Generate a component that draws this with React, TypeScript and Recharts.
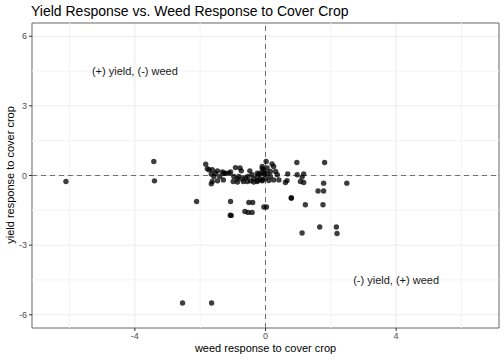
import {
  CartesianGrid,
  ReferenceArea,
  ReferenceDot,
  ReferenceLine,
  Scatter,
  ScatterChart,
  XAxis,
  YAxis,
} from "recharts";

// weed response (x) and yield response (y) to cover crop, one entry per study
const weedResponse = [
  -1.83, -1.78, -1.73, -1.63, -1.66, -1.53, -1.58, -1.47, -1.32, -1.27,
  -1.22, -1.12, -1.07, -1.4, -1.29, -1.63, -1.47, -0.92, -0.78, -0.74,
  -0.97, -0.86, -0.82, -0.71, -0.61, -0.54, -0.48, -0.41, -0.36, -0.25,
  -0.2, -0.15, -0.1, -0.05, -0.03, -0.99, -0.86, -0.68, -0.56, -0.46,
  -0.36, -0.25, -0.1, -1.66, 0.02, -0.1, 0.05, 0.2, 0.25, -0.25,
  -0.15, -0.05, 0.05, 0.15, 0.31, 0.36, 0.15, 0.0, -0.25, -0.1,
  0.1, 0.25, 0.41, 0.96, 1.81, 0.68, 0.97, 1.17, 1.12, 0.66,
  0.61, 1.07, 1.17, 1.78, 1.61, 1.78, 0.79, 0.79, 1.22, 1.76,
  2.49, -2.11, -1.07, -1.05, -1.08, -0.51, -0.39, -0.63, -0.53, -0.41,
  -0.05, 0.03, 1.66, 2.17, 2.19, 1.12, -6.11, -3.42, -3.4, -2.54,
  -1.65,
];
const yieldResponse = [
  0.49, 0.29, 0.25, 0.25, 0.06, 0.1, -0.04, 0.2, 0.15, 0.1,
  0.1, 0.1, 0.15, -0.04, -0.19, -0.26, -0.23, 0.34, 0.32, 0.2,
  -0.04, -0.14, -0.04, -0.14, -0.09, -0.04, 0.2, 0.03, -0.14, -0.04,
  0.06, -0.14, 0.29, 0.25, 0.06, -0.26, -0.28, -0.26, -0.26, -0.23,
  -0.28, -0.26, -0.23, -0.36, 0.6, 0.39, 0.32, 0.5, 0.39, 0.1,
  0.1, 0.1, 0.1, 0.17, 0.17, 0.03, -0.04, -0.11, -0.22, -0.19,
  -0.22, -0.19, -0.19, 0.56, 0.56, 0.07, 0.03, 0.07, -0.07, -0.22,
  -0.3, -0.26, -0.3, -0.33, -0.67, -0.67, -0.97, -0.97, -1.26, -1.26,
  -0.33, -1.12, -1.12, -1.72, -1.71, -1.16, -1.16, -1.55, -1.59, -1.59,
  -1.36, -1.36, -2.22, -2.22, -2.5, -2.48, -0.26, 0.6, -0.23, -5.49,
  -5.49,
];

const xTicks = [-4, 0, 4];
const yTicks = [-6, -3, 0, 3, 6];
const xMinor = [-6, -2, 2, 6];
const yMinor = [-4.5, -1.5, 1.5, 4.5];

const quadrantLabels = [
  { x: -4, y: 4.5, text: "(+) yield, (-) weed" },
  { x: 4, y: -4.5, text: "(-) yield, (+) weed" },
];

const points = weedResponse.map((w, i) => ({ weed: w, yield: yieldResponse[i] }));

const FONT = "'Liberation Sans', Arial, Helvetica, sans-serif";

export default function App() {
  return (
    <div style={{ position: "absolute", left: 0, top: 0, width: 504, height: 360, background: "#fff", fontFamily: FONT }}>
      <ScatterChart width={504} height={360} margin={{ top: 23, right: 5, bottom: 0, left: 0 }}>
        <CartesianGrid stroke="#ebebeb" strokeWidth={1} horizontalValues={yTicks} verticalValues={xTicks} />
        {xMinor.map((v) => (
          <ReferenceLine key={"xm" + v} x={v} stroke="#f3f3f3" strokeWidth={1} />
        ))}
        {yMinor.map((v) => (
          <ReferenceLine key={"ym" + v} y={v} stroke="#f3f3f3" strokeWidth={1} />
        ))}
        <XAxis
          type="number"
          dataKey="weed"
          domain={[-7.15, 7.15]}
          ticks={xTicks}
          allowDataOverflow
          height={32}
          axisLine={false}
          tickSize={3}
          tickLine={{ stroke: "#333" }}
          tickMargin={2}
          tick={{ fill: "#4d4d4d", fontSize: 9, fontFamily: FONT }}
        />
        <YAxis
          type="number"
          dataKey="yield"
          domain={[-6.57, 6.57]}
          ticks={yTicks}
          allowDataOverflow
          width={32}
          axisLine={false}
          tickSize={3}
          tickLine={{ stroke: "#333" }}
          tickMargin={2}
          tick={{ fill: "#4d4d4d", fontSize: 9, fontFamily: FONT }}
        />
        <ReferenceLine x={0} stroke="#6e6e6e" strokeWidth={1} strokeDasharray="5 4" />
        <ReferenceLine y={0} stroke="#6e6e6e" strokeWidth={1} strokeDasharray="5 4" />
        <Scatter
          data={points}
          isAnimationActive={false}
          shape={(p: any) => <circle cx={p.cx} cy={p.cy} r={2.7} fill="#000" fillOpacity={0.76} />}
        />
        {quadrantLabels.map((q) => (
          <ReferenceDot
            key={q.text}
            x={q.x}
            y={q.y}
            r={0}
            fill="none"
            stroke="none"
            label={{ value: q.text, position: "center", fill: "#1a1a1a", fontSize: 11, fontFamily: FONT }}
          />
        ))}
        <ReferenceArea x1={-7.15} x2={7.15} y1={-6.57} y2={6.57} fill="none" stroke="#666" strokeWidth={1} ifOverflow="visible" />
      </ScatterChart>
      <div style={{ position: "absolute", left: 31, top: 3, fontSize: 14, color: "#000", whiteSpace: "nowrap" }}>
        Yield Response vs. Weed Response to Cover Crop
      </div>
      <div style={{ position: "absolute", left: 0, width: 531, top: 342, textAlign: "center", fontSize: 11, color: "#000" }}>
        weed response to cover crop
      </div>
      <div
        style={{
          position: "absolute",
          left: 10,
          top: 175,
          fontSize: 11,
          color: "#000",
          whiteSpace: "nowrap",
          transform: "translate(-50%, -50%) rotate(-90deg)",
        }}
      >
        yield response to cover crop
      </div>
    </div>
  );
}
